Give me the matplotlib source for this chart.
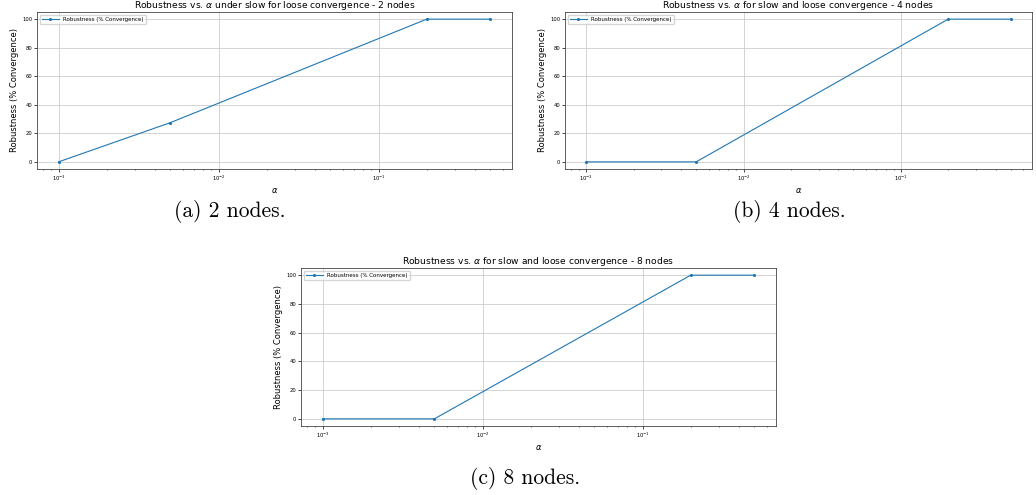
import matplotlib
matplotlib.use("Agg")
import matplotlib.pyplot as plt

alpha = [0.001, 0.005, 0.2, 0.5]
robust_2 = [0, 27.5, 100, 100]
robust_4 = [0, 0, 100, 100]
robust_8 = [0, 0, 100, 100]

titles = [
    r"Robustness vs. $\alpha$ under slow for loose convergence - 2 nodes",
    r"Robustness vs. $\alpha$ for slow and loose convergence - 4 nodes",
    r"Robustness vs. $\alpha$ for slow and loose convergence - 8 nodes",
]
captions = ["(a) 2 nodes.", "(b) 4 nodes.", "(c) 8 nodes."]
series = [robust_2, robust_4, robust_8]

W, H = 1036, 495
fig = plt.figure(figsize=(W / 100, H / 100), dpi=100)

# axes boxes in pixels: left, top, right, bottom
boxes = [(37, 12, 512, 169), (565, 12, 1032, 169), (301, 268, 776, 426)]
cap_pos = [(230, 211), (789, 211), (525, 478)]

for box, vals, title, cap, cp in zip(boxes, series, titles, captions, cap_pos):
    l, t, r, b = box
    ax = fig.add_axes([l / W, 1 - b / H, (r - l) / W, (b - t) / H])
    ax.plot(alpha, vals, marker='.', markersize=2.5, linewidth=0.8,
            color='#1f77b4', label='Robustness (% Convergence)')
    ax.set_xscale('log')
    ax.set_yticks([0, 20, 40, 60, 80, 100])
    ax.grid(True, which='major', color='#cccccc', linewidth=0.6)
    ax.tick_params(labelsize=3.8, length=2, width=0.5, pad=1.5)
    ax.tick_params(which='minor', length=1, width=0.4)
    for s in ax.spines.values():
        s.set_linewidth(0.6)
        s.set_color('#444444')
    ax.set_title(title, fontsize=6.6, pad=2)
    ax.set_xlabel(r"$\alpha$", fontsize=6, labelpad=2)
    ax.set_ylabel("Robustness (% Convergence)", fontsize=6, labelpad=2)
    ax.legend(loc='upper left', fontsize=4, frameon=True, handlelength=3,
              borderpad=0.4, framealpha=0.8)
    fig.text(cp[0] / W, 1 - cp[1] / H, cap, ha='center', va='center',
             fontsize=15.5, family='cmr10')

fig.savefig('out.png', dpi=100)
